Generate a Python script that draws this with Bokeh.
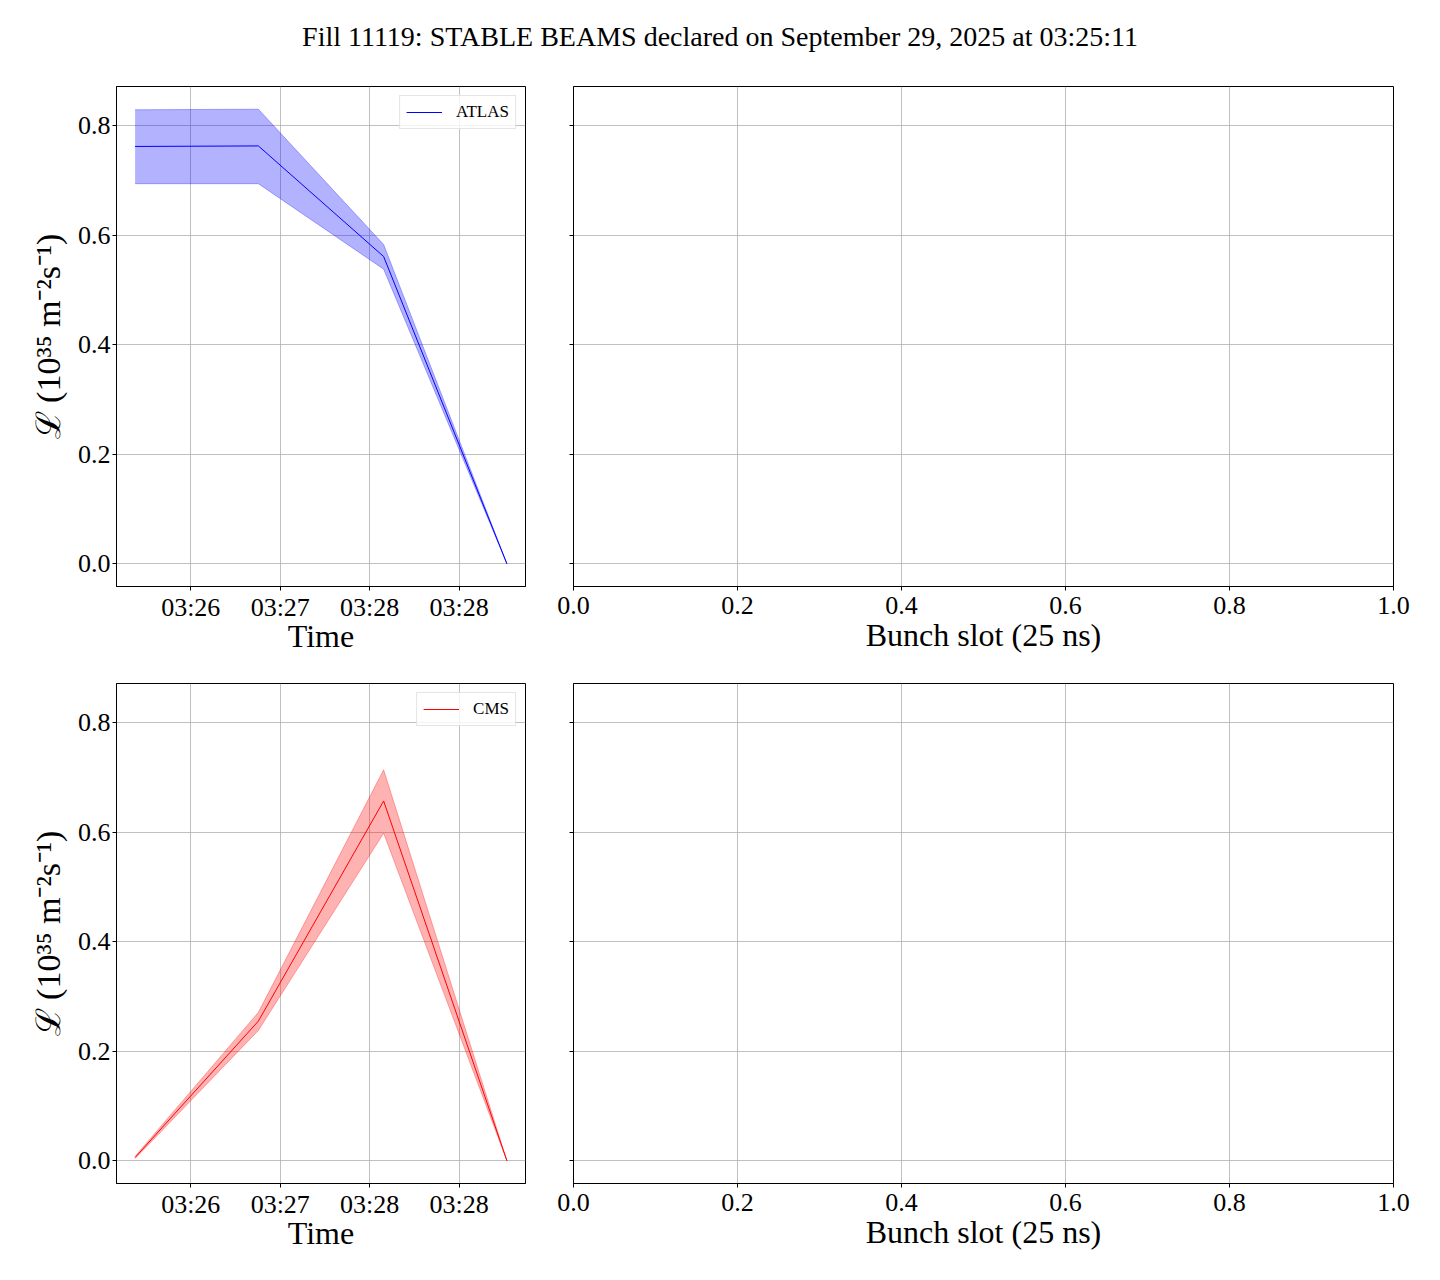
from bokeh.plotting import figure
from bokeh.layouts import column, gridplot
from bokeh.models import Range1d, FixedTicker, CustomJSTickFormatter, Label, Legend, LegendItem
from bokeh.embed import file_html
from bokeh.resources import INLINE

# ---------------- data ----------------
title_text = "Fill 11119: STABLE BEAMS declared on September 29, 2025 at 03:25:11"
times = ["03:25:32", "03:26:34", "03:27:37", "03:28:39"]
atlas_lumi = [0.762, 0.763, 0.561, 0.0]
atlas_lo = [0.694, 0.694, 0.538, 0.0]
atlas_hi = [0.829, 0.830, 0.583, 0.0]
cms_lumi = [0.006, 0.255, 0.657, 0.0]
cms_lo = [0.004, 0.238, 0.598, 0.0]
cms_hi = [0.008, 0.271, 0.714, 0.0]
time_ticks = ["03:26:00", "03:26:45", "03:27:30", "03:28:15"]
time_tick_labels = ["03:26", "03:27", "03:28", "03:28"]
y_ticks = [0.0, 0.2, 0.4, 0.6, 0.8]
slot_ticks = [0.0, 0.2, 0.4, 0.6, 0.8, 1.0]
ylabel = "\u2112 (10\u00b3\u2075 m\u207b\u00b2s\u207b\u00b9)"
xlabel_time = "Time"
xlabel_slot = "Bunch slot (25 ns)"


def to_sec(t):
    h, m, s = (int(v) for v in t.split(":"))
    return h * 3600 + m * 60 + s


xs = [to_sec(t) for t in times]
tick_secs = [to_sec(t) for t in time_ticks]

FONT = "Liberation Serif"
GRID = "#b0b0b0"

# shared y range (matplotlib-like 5% margins)
ymax = max(max(atlas_hi), max(cms_hi))
ymin = 0.0
ypad = 0.05 * (ymax - ymin)
y_range = Range1d(ymin - ypad, ymax + ypad)

xpad = 0.05 * (max(xs) - min(xs))
x_start, x_end = min(xs) - xpad, max(xs) + xpad

fmt1 = CustomJSTickFormatter(code="return tick.toFixed(1);")


def style(p):
    p.outline_line_color = "black"
    p.outline_line_width = 1
    p.outline_line_alpha = 1
    p.background_fill_color = "white"
    p.border_fill_color = "white"
    for ax in p.axis:
        ax.axis_line_color = "black"
        ax.major_tick_line_color = "black"
        ax.major_tick_out = 4
        ax.major_tick_in = 0
        ax.minor_tick_line_color = None
        ax.major_label_text_font = FONT
        ax.major_label_text_font_size = "26px"
        ax.major_label_text_color = "black"
        ax.major_label_standoff = 2
        ax.axis_label_text_font = FONT
        ax.axis_label_text_font_size = "32px"
        ax.axis_label_text_font_style = "normal"
        ax.axis_label_text_color = "black"
        ax.axis_label_standoff = 0
    p.grid.grid_line_color = GRID
    p.grid.grid_line_width = 0.8


def left_panel(lumi, lo, hi, color, name, top):
    p = figure(frame_width=409, frame_height=500, x_range=Range1d(x_start, x_end),
               y_range=y_range, output_backend="svg", toolbar_location=None,
               min_border_left=116, min_border_right=24, min_border_top=top, min_border_bottom=90)
    p.varea(x=xs, y1=lo, y2=hi, fill_color=color, fill_alpha=0.3)
    p.line(x=xs, y=lo, line_color=color, line_alpha=0.3, line_width=1)
    p.line(x=xs, y=hi, line_color=color, line_alpha=0.3, line_width=1)
    r = p.line(x=xs, y=lumi, line_color=color, line_width=1)
    p.xaxis.ticker = FixedTicker(ticks=tick_secs)
    p.xaxis.major_label_overrides = {s: l for s, l in zip(tick_secs, time_tick_labels)}
    p.yaxis.ticker = FixedTicker(ticks=y_ticks)
    p.yaxis.formatter = fmt1
    p.xaxis.axis_label = xlabel_time
    p.yaxis.axis_label = ylabel
    style(p)
    p.xaxis.axis_label_standoff = -7
    p.yaxis.axis_label_text_font_size = "34px"
    p.yaxis.axis_label_standoff = 8
    leg = Legend(items=[LegendItem(label=name, renderers=[r])], location="top_right",
                 label_text_font=FONT, label_text_font_size="17px", label_text_color="black",
                 glyph_width=36, glyph_height=16, label_height=16, label_standoff=14,
                 padding=6, margin=9, border_line_color="#cccccc", border_line_width=1,
                 background_fill_alpha=0.8, background_fill_color="white")
    p.add_layout(leg)
    return p


def right_panel(top):
    p = figure(frame_width=820, frame_height=500, x_range=Range1d(0, 1), y_range=y_range,
               output_backend="svg", toolbar_location=None,
               min_border_left=24, min_border_right=30, min_border_top=top, min_border_bottom=90)
    p.xaxis.ticker = FixedTicker(ticks=slot_ticks)
    p.xaxis.formatter = fmt1
    p.yaxis.ticker = FixedTicker(ticks=y_ticks)
    p.yaxis.formatter = CustomJSTickFormatter(code="return '';")
    p.xaxis.axis_label = xlabel_slot
    style(p)
    p.xaxis.major_label_standoff = 6
    return p


tl = left_panel(atlas_lumi, atlas_lo, atlas_hi, "blue", "ATLAS", 18)
tr = right_panel(18)
bl = left_panel(cms_lumi, cms_lo, cms_hi, "red", "CMS", 7)
br = right_panel(7)

# title strip
tp = figure(width=1432, height=68, x_range=Range1d(0, 1432), y_range=Range1d(0, 68),
            x_axis_type=None, y_axis_type=None, output_backend="svg", toolbar_location=None,
            min_border=0)
tp.outline_line_color = None
tp.grid.visible = False
tp.add_layout(Label(x=719.5, y=32.3, text=title_text, text_font=FONT, text_font_size="28px",
                    text_align="center", text_baseline="alphabetic", text_color="black"))

grid = gridplot([[tl, tr], [bl, br]], toolbar_location=None)
layout = column(tp, grid)

open("out.html", "w").write(file_html(layout, INLINE))
